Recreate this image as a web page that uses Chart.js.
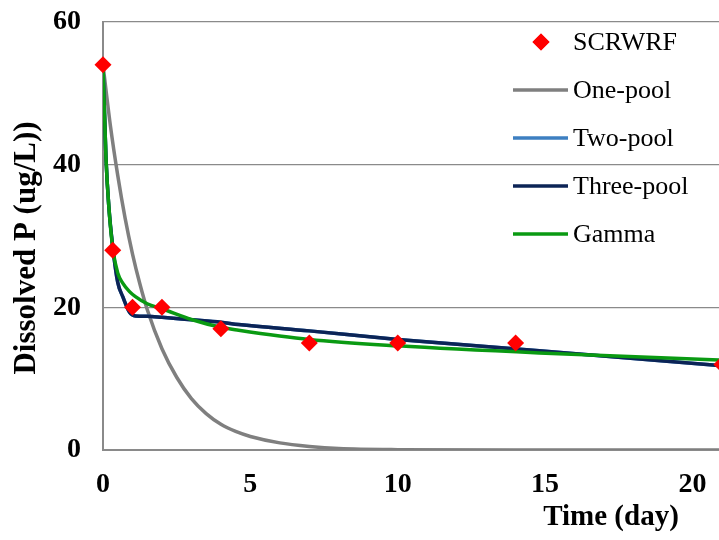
<!DOCTYPE html>
<html>
<head>
<meta charset="utf-8">
<script src="https://cdn.jsdelivr.net/npm/chart.js@4/dist/chart.umd.min.js"></script>
<style>
  html, body { margin: 0; padding: 0; background: #fff; overflow: hidden; }
  canvas { display: block; }
</style>
</head>
<body>
<canvas id="chart" width="719" height="540"></canvas>
<script>
// Observed dissolved P (ug/L) over time (day)
const OBS_TIME = [0, 0.33, 1, 2, 4, 7, 10, 14, 21];
const OBS_SCRWRF = [54, 28, 20, 20, 17, 15, 15, 15, 12];

// One-pool model curve
const ONE_TIME = [0, 0.25, 0.5, 0.75, 1, 1.25, 1.5, 2, 2.5, 3, 3.5, 4, 4.5, 5, 6, 7, 8, 10, 15, 21];
const ONE_POOL = [54, 45.5, 38.5, 32.5, 27.5, 23.3, 19.7, 14.2, 10.2, 7.2, 5.1, 3.6, 2.6, 1.9, 1.0, 0.5, 0.2, 0.05, 0, 0];

// Two-pool, three-pool and gamma model curves
const MULTI_TIME = [0, 0.1, 0.2, 0.33, 0.5, 0.67, 0.9, 1.1, 1.5, 2, 3, 4, 4.6, 7, 10, 14.8, 21];
const TWO_POOL   = [54, 41, 34, 28.5, 23.5, 21.5, 19.3, 18.8, 18.75, 18.6, 18.25, 17.9, 17.6, 16.7, 15.5, 13.9, 11.8];
const THREE_POOL = [54, 41, 34, 28.5, 23.5, 21.5, 19.3, 18.8, 18.75, 18.6, 18.25, 17.9, 17.6, 16.7, 15.5, 13.9, 11.8];
const GAMMA      = [54, 41, 34, 28.3, 24.8, 23.4, 22.2, 21.5, 20.5, 19.8, 18.3, 17.2, 16.8, 15.5, 14.6, 13.6, 12.6];

// Axis ticks
const Y_TICKS = [0, 20, 40, 60];
const X_TICKS = [0, 5, 10, 15, 20];

const SERIF = '"Liberation Serif", "Times New Roman", serif';

function pairs(xs, ys) {
  return xs.map((x, i) => ({ x: x, y: ys[i] }));
}

// Legend drawn inside the plot, upper right
const insideLegend = {
  id: 'insideLegend',
  afterDatasetsDraw(chart) {
    const ctx = chart.ctx;
    const sets = chart.data.datasets;
    const markX = 541, lineX0 = 513, lineX1 = 568, textX = 573;
    const rowY0 = 42, rowStep = 48;
    ctx.save();
    ctx.font = '26px ' + SERIF;
    ctx.textBaseline = 'middle';
    ctx.textAlign = 'left';
    sets.forEach((ds, i) => {
      const y = rowY0 + i * rowStep;
      if (ds.showLine === false) {
        Chart.helpers.drawPoint(ctx, {
          pointStyle: ds.pointStyle,
          radius: ds.pointRadius,
          borderWidth: 0
        }, markX, y);
        ctx.fillStyle = ds.pointBackgroundColor;
        ctx.fill();
      } else {
        ctx.strokeStyle = ds.borderColor;
        ctx.lineWidth = ds.borderWidth;
        ctx.beginPath();
        ctx.moveTo(lineX0, y);
        ctx.lineTo(lineX1, y);
        ctx.stroke();
      }
      ctx.fillStyle = '#000';
      ctx.fillText(ds.label, textX, y + 1);
    });
    ctx.restore();
  }
};

// Axis captions
const axisCaptions = {
  id: 'axisCaptions',
  afterDraw(chart) {
    const ctx = chart.ctx;
    ctx.save();
    ctx.fillStyle = '#000';
    ctx.textAlign = 'center';
    ctx.textBaseline = 'middle';
    ctx.font = 'bold 29px ' + SERIF;
    ctx.fillText('Time (day)', 611, 518);
    ctx.font = 'bold 31px ' + SERIF;
    ctx.translate(27, 248);
    ctx.rotate(-Math.PI / 2);
    ctx.fillText('Dissolved P (ug/L))', 0, 0);
    ctx.restore();
  }
};

const lineStyle = {
  showLine: true,
  pointRadius: 0,
  pointHoverRadius: 0,
  borderWidth: 3.5,
  fill: false,
  cubicInterpolationMode: 'monotone',
  borderCapStyle: 'round',
  borderJoinStyle: 'round'
};

new Chart(document.getElementById('chart'), {
  type: 'line',
  data: {
    datasets: [
      {
        label: 'SCRWRF',
        data: pairs(OBS_TIME, OBS_SCRWRF),
        showLine: false,
        pointStyle: 'rectRot',
        pointRadius: 8.5,
        pointHoverRadius: 8.5,
        pointBorderWidth: 0,
        pointBackgroundColor: '#ff0000',
        pointBorderColor: '#ff0000',
        borderColor: '#ff0000',
        clip: false,
        order: 0
      },
      Object.assign({}, lineStyle, {
        label: 'One-pool',
        data: pairs(ONE_TIME, ONE_POOL),
        borderColor: '#7f7f7f',
        order: 4
      }),
      Object.assign({}, lineStyle, {
        label: 'Two-pool',
        data: pairs(MULTI_TIME, TWO_POOL),
        borderColor: '#3d7fc1',
        order: 3
      }),
      Object.assign({}, lineStyle, {
        label: 'Three-pool',
        data: pairs(MULTI_TIME, THREE_POOL),
        borderColor: '#0c2456',
        order: 2
      }),
      Object.assign({}, lineStyle, {
        label: 'Gamma',
        data: pairs(MULTI_TIME, GAMMA),
        borderColor: '#0a9a12',
        order: 1
      })
    ]
  },
  options: {
    responsive: false,
    animation: false,
    events: [],
    layout: { autoPadding: false, padding: { top: 22, right: 0, left: 0, bottom: 0 } },
    plugins: {
      legend: { display: false },
      tooltip: { enabled: false }
    },
    scales: {
      x: {
        type: 'linear',
        min: 0,
        max: 20.9,
        afterFit(scale) {
          scale.height = 90;
          scale.paddingLeft = 0;
          scale.paddingRight = 0;
        },
        afterBuildTicks(scale) { scale.ticks = X_TICKS.map(v => ({ value: v })); },
        grid: { display: false, drawTicks: false },
        border: { display: true, color: '#8a8a8a', width: 2 },
        ticks: {
          color: '#000',
          padding: 18,
          maxRotation: 0,
          font: { family: SERIF, size: 28, weight: 'bold' }
        }
      },
      y: {
        type: 'linear',
        min: 0,
        max: 60,
        afterFit(scale) {
          scale.width = 103;
          scale.paddingTop = 0;
          scale.paddingBottom = 0;
        },
        afterBuildTicks(scale) { scale.ticks = Y_TICKS.map(v => ({ value: v })); },
        grid: { color: '#8a8a8a', lineWidth: 1.2, drawTicks: false },
        border: { display: true, color: '#8a8a8a', width: 2 },
        ticks: {
          color: '#000',
          padding: 22,
          font: { family: SERIF, size: 28, weight: 'bold' }
        }
      }
    }
  },
  plugins: [insideLegend, axisCaptions]
});
</script>
</body>
</html>
